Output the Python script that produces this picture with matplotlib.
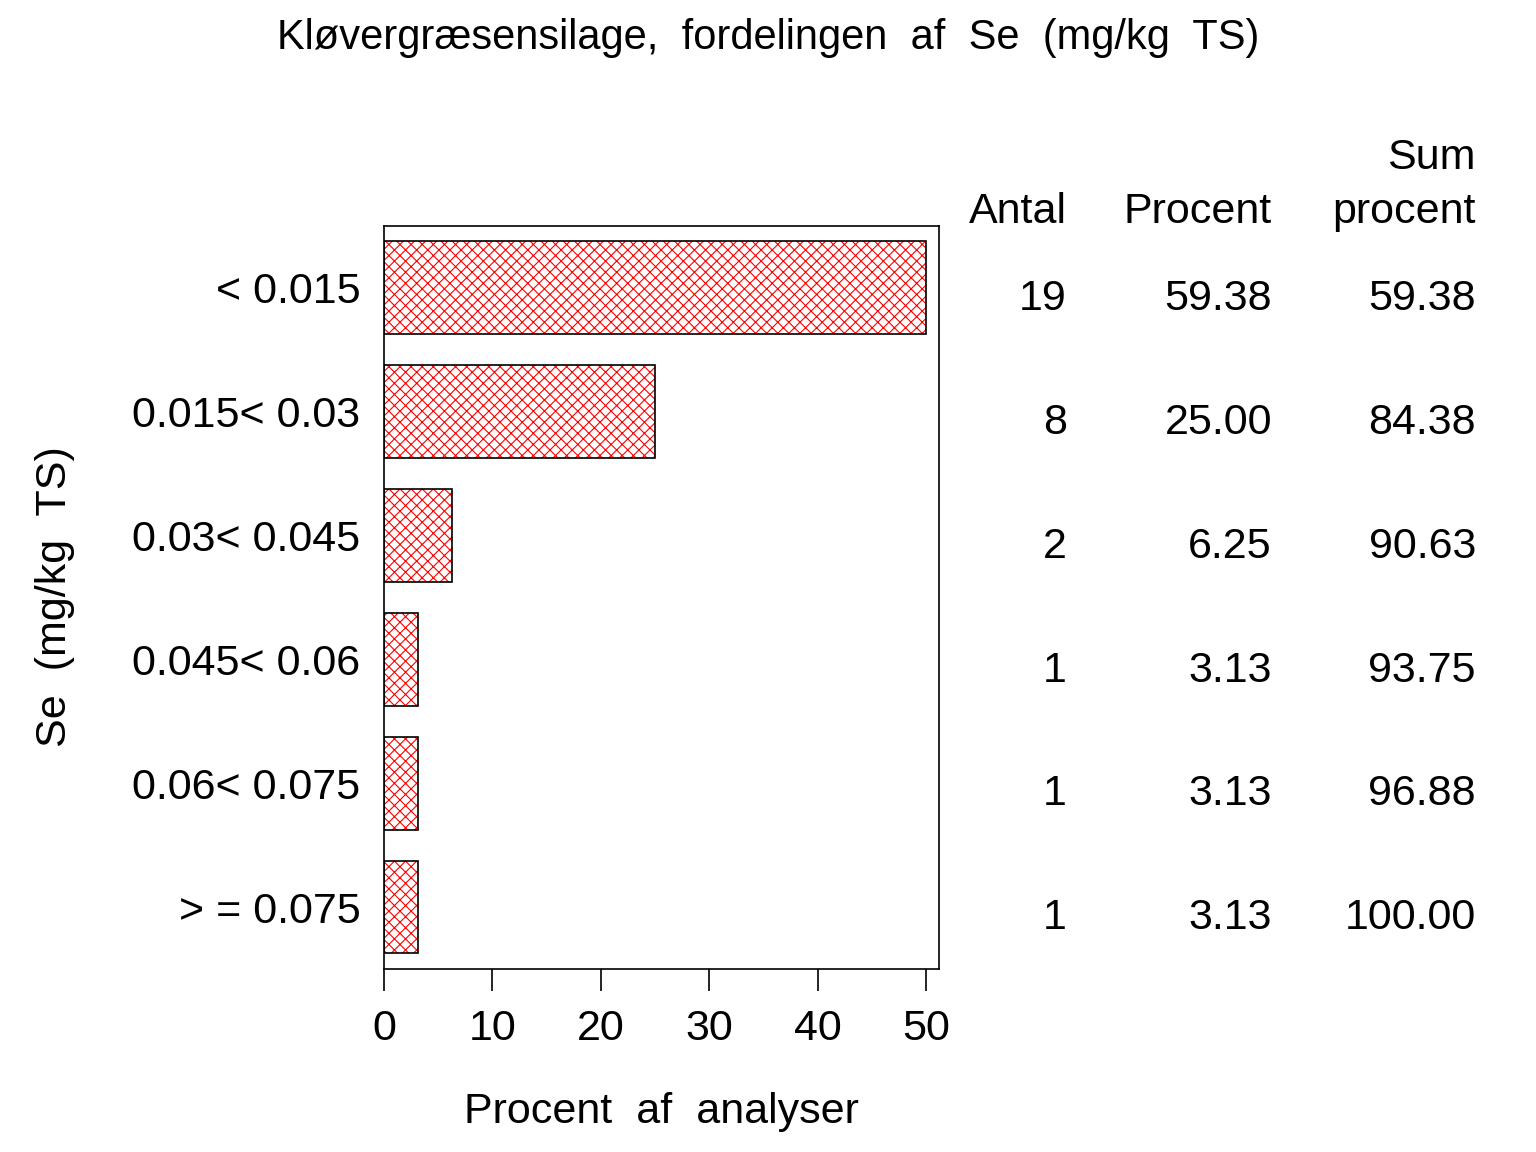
import numpy as np
import matplotlib.pyplot as plt
from matplotlib.transforms import blended_transform_factory

plt.rcParams['font.family'] = ['Liberation Sans', 'DejaVu Sans']
plt.rcParams['hatch.linewidth'] = 0.8

kategorier = ["< 0.015", "0.015< 0.03", "0.03< 0.045",
              "0.045< 0.06", "0.06< 0.075", "> = 0.075"]
antal = [19, 8, 2, 1, 1, 1]
procent = [59.38, 25.00, 6.25, 3.13, 3.13, 3.13]
sum_procent = [59.38, 84.38, 90.63, 93.75, 96.88, 100.00]

y = np.arange(len(kategorier))
bredde = np.minimum(procent, 50)  # akse slutter ved 50

fs = 31
fig = plt.figure(figsize=(15.36, 11.52), dpi=100)
ax = fig.add_axes([0.25, 0.1589, 0.3613, 0.6449])

# hatch i rød, kant i sort
ax.barh(y, bredde, height=0.75, color="white", edgecolor="red",
        hatch="xxx", linewidth=0)
ax.barh(y, bredde, height=0.75, fill=False, edgecolor="black", linewidth=1.2)

ax.set_ylim(len(kategorier) - 0.5, -0.5)
ax.set_xlim(0, 51.2)
ax.set_xticks([0, 10, 20, 30, 40, 50])
ax.set_yticks(y)
ax.set_yticklabels(kategorier)
ax.tick_params(axis="y", length=0, pad=17, labelsize=fs)
ax.tick_params(axis="x", direction="out", length=16, width=1.2,
               pad=13, labelsize=fs)
for s in ax.spines.values():
    s.set_linewidth(1.2)

ax.set_xlabel("Procent  af  analyser", fontsize=fs, labelpad=31)
fig.text(0.036, 0.482, "Se  (mg/kg  TS)", rotation=90, fontsize=fs,
         ha="center", va="center")
fig.text(0.5, 0.967, "Kløvergræsensilage,  fordelingen  af  Se  (mg/kg  TS)",
         fontsize=30, ha="center", va="center")

# tabel til højre
tr = blended_transform_factory(fig.transFigure, ax.transData)
kol_x = [1067 / 1536, 1272 / 1536, 1476 / 1536]
fig.text(kol_x[2], 1 - 158 / 1152, "Sum", fontsize=fs, ha="right", va="center")
for xx, h in zip(kol_x, ["Antal", "Procent", "procent"]):
    fig.text(xx, 1 - 212 / 1152, h, fontsize=fs, ha="right", va="center")
for i in range(len(kategorier)):
    yy = y[i] + 0.09
    ax.text(kol_x[0], yy, f"{antal[i]}", transform=tr, fontsize=fs,
            ha="right", va="center", clip_on=False)
    ax.text(kol_x[1], yy, f"{procent[i]:.2f}", transform=tr, fontsize=fs,
            ha="right", va="center", clip_on=False)
    ax.text(kol_x[2], yy, f"{sum_procent[i]:.2f}", transform=tr, fontsize=fs,
            ha="right", va="center", clip_on=False)

fig.savefig("out.png", dpi=100)
